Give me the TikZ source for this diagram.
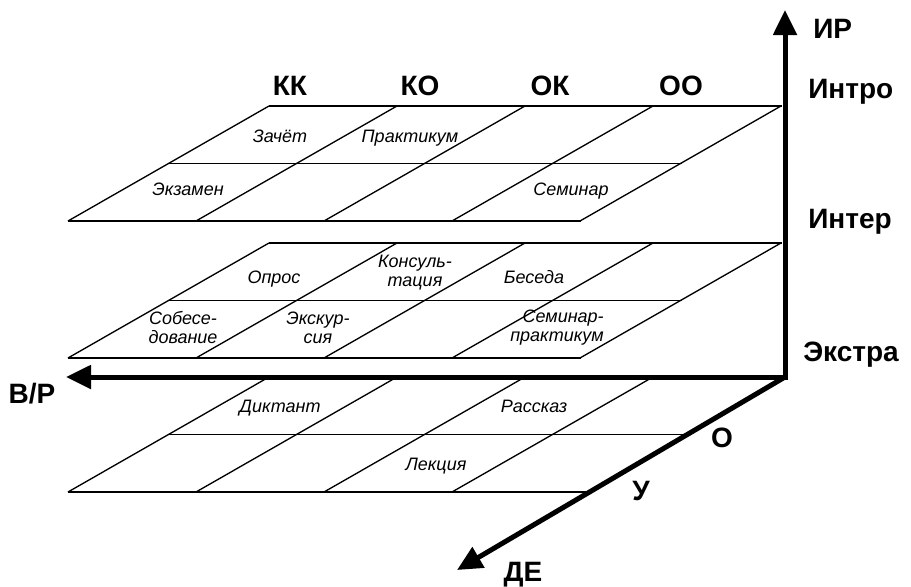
\documentclass[tikz,border=0pt]{standalone}
\usepackage{fontspec}
\setmainfont{Liberation Sans}
\usetikzlibrary{arrows.meta}
\begin{document}
\begin{tikzpicture}[x=0.75pt,y=-0.75pt,
  gridline/.style={line width=1pt},
  axisline/.style={line width=3.75pt,line join=miter},
  tipA/.tip={Triangle[length=18.75pt,width=17.25pt]},
  cell/.style={font=\fontsize{13.5}{14.3}\selectfont\itshape,inner sep=0pt,align=center,anchor=base},
  cell2/.style={font=\fontsize{13.5}{14.3}\selectfont\itshape,inner sep=0pt,align=center,anchor=center},
  lbl/.style={font=\fontsize{21}{24}\selectfont\bfseries,inner sep=0pt,anchor=base},
  lblw/.style={font=\fontsize{21}{24}\selectfont\bfseries,inner sep=0pt,anchor=base west}]
\path[use as bounding box] (0,0) rectangle (911,586);

% top and middle planes
\foreach \b in {106,243}{
  \pgfmathsetmacro{\f}{\b+115}
  \pgfmathsetmacro{\m}{\b+57.5}
  \draw[gridline] (269,\b) -- (782,\b);
  \draw[gridline] (68,\f) -- (581,\f);
  \draw[gridline] (168.5,\m) -- (681.5,\m);
  \foreach \k in {0,...,4}{
    \draw[gridline] (269+128*\k,\b) -- (68+128*\k,\f);
  }
}
% bottom plane
\draw[gridline] (68,492) -- (587,492);
\draw[gridline] (168.5,434.5) -- (685,434.5);
\foreach \k in {0,...,3}{
  \draw[gridline] (269+128*\k,377) -- (68+128*\k,492);
}

% axes
\coordinate (O) at (785,377);
\coordinate (tipY) at (785,10);
\coordinate (tipX) at (66,377);
\coordinate (tipZ) at (457,570);
\draw[axisline,tipA-tipA] (tipY) -- (O) -- (tipX);
\draw[axisline,-tipA] (O) -- (tipZ);

% axis labels
\node[lblw] (ir) at (813,38) {ИР};
\node[lblw] (intro) at (808,98) {Интро};
\node[lblw] (inter) at (808,228) {Интер};
\node[lblw] (extra) at (803,361) {Экстра};
\node[lbl] (vr) at (32,403) {В/Р};
\node[lbl] (lo) at (722,447) {О};
\node[lbl] (lu) at (641,500) {У};
\node[lbl] (de) at (523,581) {ДЕ};
\node[lbl] (kk) at (290,95) {КК};
\node[lbl] (ko) at (420,95) {КО};
\node[lbl] (ok) at (550,95) {ОК};
\node[lbl] (oo) at (681,95) {ОО};

% cell texts
\node[cell] (t1) at (280,142) {Зачёт};
\node[cell] (t2) at (410,142) {Практикум};
\node[cell] (t3) at (188,195) {Экзамен};
\node[cell] (t4) at (571,195) {Семинар};
\node[cell] (m1) at (274,283) {Опрос};
\node[cell2] (m2) at (415,272.5) {Консуль-\\тация};
\node[cell] (m3) at (534,283) {Беседа};
\node[cell2] (m4) at (183,327.5) {Собесе-\\дование};
\node[cell2] (m5) at (318,327.5) {Экскур-\\сия};
\node[cell2,align=right] (m6) at (557,327.5) {Семинар-\\практикум};
\node[cell] (b1) at (280,412) {Диктант};
\node[cell] (b2) at (534,412) {Рассказ};
\node[cell] (b3) at (436,470) {Лекция};
\end{tikzpicture}
\end{document}
